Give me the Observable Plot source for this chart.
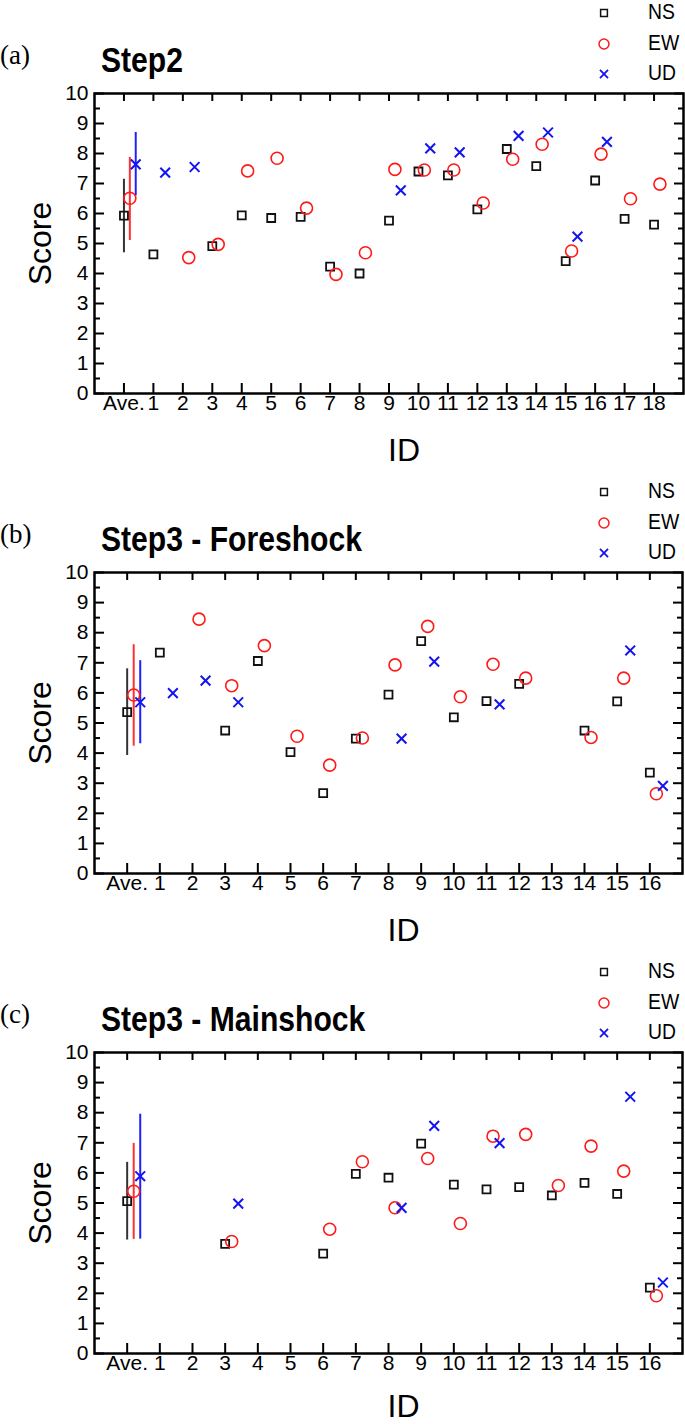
<!DOCTYPE html>
<html>
<head>
<meta charset="utf-8">
<script src="https://cdn.jsdelivr.net/npm/d3@7"></script>
<script src="https://cdn.jsdelivr.net/npm/@observablehq/plot@0.6"></script>
<style>
  body { margin: 0; background: #fff; }
  #root { position: relative; width: 685px; height: 1424px; overflow: hidden; background: #fff; }
  .panel { position: absolute; left: 0; width: 685px; }
  .panel svg { position: absolute; left: 0; top: 0; font-family: "Liberation Sans", Arial, sans-serif; }
  .panel svg [aria-label="x-axis label"], .panel svg [aria-label="y-axis label"] { font-size: 32px; }
  .plabel { position: absolute; left: 0; font-family: "Liberation Serif", "Times New Roman", serif; font-size: 27px; line-height: 27px; }
  .title { position: absolute; left: 101px; font-family: "Liberation Sans", Arial, sans-serif; font-weight: bold; font-size: 35px; line-height: 35px; white-space: nowrap; transform: scaleX(0.86); transform-origin: 0 0; }
  .leg { position: absolute; left: 597px; height: 22px; font-family: "Liberation Sans", Arial, sans-serif; font-size: 22px; line-height: 22px; white-space: nowrap; }
  .leg svg { position: absolute; left: 0; top: 5px; }
  .leg span { position: absolute; left: 51px; top: 0; transform: scaleX(0.88); transform-origin: 0 0; }
</style>
</head>
<body>
<div id="root"></div>
<script>
// ---------- Panel (a) Step2 ----------
const idsA = ["Ave.", "1", "2", "3", "4", "5", "6", "7", "8", "9", "10", "11", "12", "13", "14", "15", "16", "17", "18"];
const nsA = [5.93, 4.64, null, 4.91, 5.94, 5.85, 5.89, 4.23, 4.00, 5.76, 7.40, 7.27, 6.14, 8.15, 7.58, 4.41, 7.10, 5.82, 5.63];
const ewA = [6.51, null, 4.53, 4.97, 7.42, 7.84, 6.18, 3.97, 4.69, 7.47, 7.45, 7.45, 6.35, 7.81, 8.31, 4.75, 7.98, 6.49, 6.98];
const udA = [7.64, 7.36, 7.55, null, null, null, null, null, null, 6.77, 8.17, 8.04, null, 8.59, 8.70, 5.23, 8.39, null, null];
const errA = { NS: [4.69, 7.14], EW: [5.10, 7.87], UD: [6.59, 8.70] };

// ---------- Panel (b) Step3 - Foreshock ----------
const idsB = ["Ave.", "1", "2", "3", "4", "5", "6", "7", "8", "9", "10", "11", "12", "13", "14", "15", "16"];
const nsB = [5.36, 7.34, null, 4.75, 7.06, 4.03, 2.67, 4.48, 5.94, 7.72, 5.19, 5.73, 6.30, null, 4.75, 5.72, 3.35];
const ewB = [5.93, null, 8.45, 6.24, 7.57, 4.56, 3.60, 4.50, 6.93, 8.21, 5.87, 6.95, 6.49, null, 4.52, 6.49, 2.65];
const udB = [5.69, 5.99, 6.41, 5.69, null, null, null, null, 4.48, 7.04, null, 5.62, null, null, null, 7.41, 2.91];
const errB = { NS: [3.92, 6.80], EW: [4.23, 7.60], UD: [4.31, 7.07] };

// ---------- Panel (c) Step3 - Mainshock ----------
const idsC = ["Ave.", "1", "2", "3", "4", "5", "6", "7", "8", "9", "10", "11", "12", "13", "14", "15", "16"];
const nsC = [5.06, null, null, 3.64, null, null, 3.32, 5.97, 5.84, 6.97, 5.61, 5.45, 5.53, 5.25, 5.67, 5.30, 2.19];
const ewC = [5.39, null, null, 3.72, null, null, 4.13, 6.37, 4.84, 6.48, 4.32, 7.22, 7.28, 5.58, 6.89, 6.06, 1.92];
const udC = [5.89, null, null, 4.98, null, null, null, null, 4.84, 7.56, null, 6.99, null, null, null, 8.53, 2.36];
const errC = { NS: [3.77, 6.35], EW: [3.79, 6.98], UD: [3.80, 7.95] };

const yTicks = [0, 1, 2, 3, 4, 5, 6, 7, 8, 9, 10];
const yMinor = [0.5, 1.5, 2.5, 3.5, 4.5, 5.5, 6.5, 7.5, 8.5, 9.5];
const seriesNames = ["NS", "EW", "UD"];

// styling
const style = {
  NS: { symbol: "square", r: 4.5, stroke: "#111", strokeWidth: 1.8, dodge: 0 },
  EW: { symbol: "circle", r: 6, stroke: "#ff1a1a", strokeWidth: 1.6, dodge: 0.2 },
  UD: { symbol: "times", r: 4.5, stroke: "#1414f0", strokeWidth: 2, dodge: 0.4 }
};
const barColor = { NS: "#333", EW: "#ff3030", UD: "#2020ff" };

const panels = [
  { tag: "(a)", title: "Step2", ids: idsA, NS: nsA, EW: ewA, UD: udA, err: errA, top: 0, height: 479, mb: 86, mr: 2, lo: 67 },
  { tag: "(b)", title: "Step3 - Foreshock", ids: idsB, NS: nsB, EW: ewB, UD: udB, err: errB, top: 479, height: 480, mb: 86, mr: 3, lo: 67 },
  { tag: "(c)", title: "Step3 - Mainshock", ids: idsC, NS: nsC, EW: ewC, UD: udC, err: errC, top: 959, height: 465, mb: 71, mr: 3, lo: 63 }
];

const root = document.getElementById("root");

function legendSymbol(name) {
  const s = style[name];
  const sym = { square: d3.symbolSquare, circle: d3.symbolCircle, times: d3.symbolTimes }[s.symbol];
  const size = { square: 46, circle: 78, times: 44 }[s.symbol];
  const path = d3.symbol(sym, size)();
  return `<svg width="14" height="14" viewBox="-7 -7 14 14"><path d="${path}" fill="none" stroke="${s.stroke}" stroke-width="${name === "UD" ? 1.8 : 1.5}"/></svg>`;
}

for (const p of panels) {
  const n = p.ids.length;
  const xt = d3.range(n);
  const dots = {};
  for (const name of seriesNames) {
    dots[name] = p[name].map((v, i) => ({ x: i + style[name].dodge, y: v })).filter(d => d.y != null);
  }
  const bars = seriesNames.map(name => ({ x: style[name].dodge, lo: p.err[name][0], up: p.err[name][1], name }));

  const chart = Plot.plot({
    width: 685,
    height: p.height,
    marginLeft: 94,
    marginRight: p.mr,
    marginTop: 93,
    marginBottom: p.mb,
    style: { background: "transparent", overflow: "visible" },
    x: { type: "linear", domain: [-1, n], label: null },
    y: { domain: [0, 10], label: null },
    marks: [
      Plot.axisX(xt, { anchor: "bottom", tickSize: -10, tickPadding: 12, strokeWidth: 2, fontSize: 21, fill: "#000",
        tickFormat: i => p.ids[i], label: "ID", labelAnchor: "center", labelOffset: p.lo, labelArrow: "none" }),
      Plot.axisX(xt, { anchor: "top", tickSize: -7, strokeWidth: 2, tickFormat: () => "", label: null }),
      Plot.axisY(yTicks, { anchor: "left", tickSize: -10, tickPadding: 16, strokeWidth: 2, fontSize: 21, fill: "#000",
        tickFormat: d => String(d), label: "Score", labelAnchor: "center", labelOffset: 66, labelArrow: "none" }),
      Plot.axisY(yMinor, { anchor: "left", tickSize: -6, strokeWidth: 2, tickFormat: () => "", label: null }),
      Plot.axisY(yTicks, { anchor: "right", tickSize: -10, strokeWidth: 2, tickFormat: () => "", label: null }),
      Plot.axisY(yMinor, { anchor: "right", tickSize: -6, strokeWidth: 2, tickFormat: () => "", label: null }),
      Plot.frame({ stroke: "#000", strokeWidth: 2.5 }),
      Plot.ruleX(bars, { x: "x", y1: "lo", y2: "up", stroke: d => barColor[d.name], strokeWidth: 2 }),
      ...seriesNames.map(name => Plot.dot(dots[name], {
        x: "x", y: "y", symbol: style[name].symbol, r: style[name].r,
        stroke: style[name].stroke, strokeWidth: style[name].strokeWidth, fill: "none"
      }))
    ]
  });

  // shift the "ID" label slightly right, as in the reference
  const xl = chart.querySelector('[aria-label="x-axis label"]');
  if (xl) {
    const t = xl.getAttribute("transform") || "";
    xl.setAttribute("transform", "translate(15,0) " + t);
  }

  const div = document.createElement("div");
  div.className = "panel";
  div.style.top = p.top + "px";
  div.style.height = p.height + "px";
  div.appendChild(chart);

  const tag = document.createElement("div");
  tag.className = "plabel";
  tag.style.top = "42px";
  tag.textContent = p.tag;
  div.appendChild(tag);

  const title = document.createElement("div");
  title.className = "title";
  title.style.top = "42px";
  title.textContent = p.title;
  div.appendChild(title);

  seriesNames.forEach((name, k) => {
    const row = document.createElement("div");
    row.className = "leg";
    row.style.top = (1 + k * 30.5) + "px";
    row.innerHTML = legendSymbol(name) + `<span>${name}</span>`;
    div.appendChild(row);
  });

  root.appendChild(div);
}
</script>
</body>
</html>
